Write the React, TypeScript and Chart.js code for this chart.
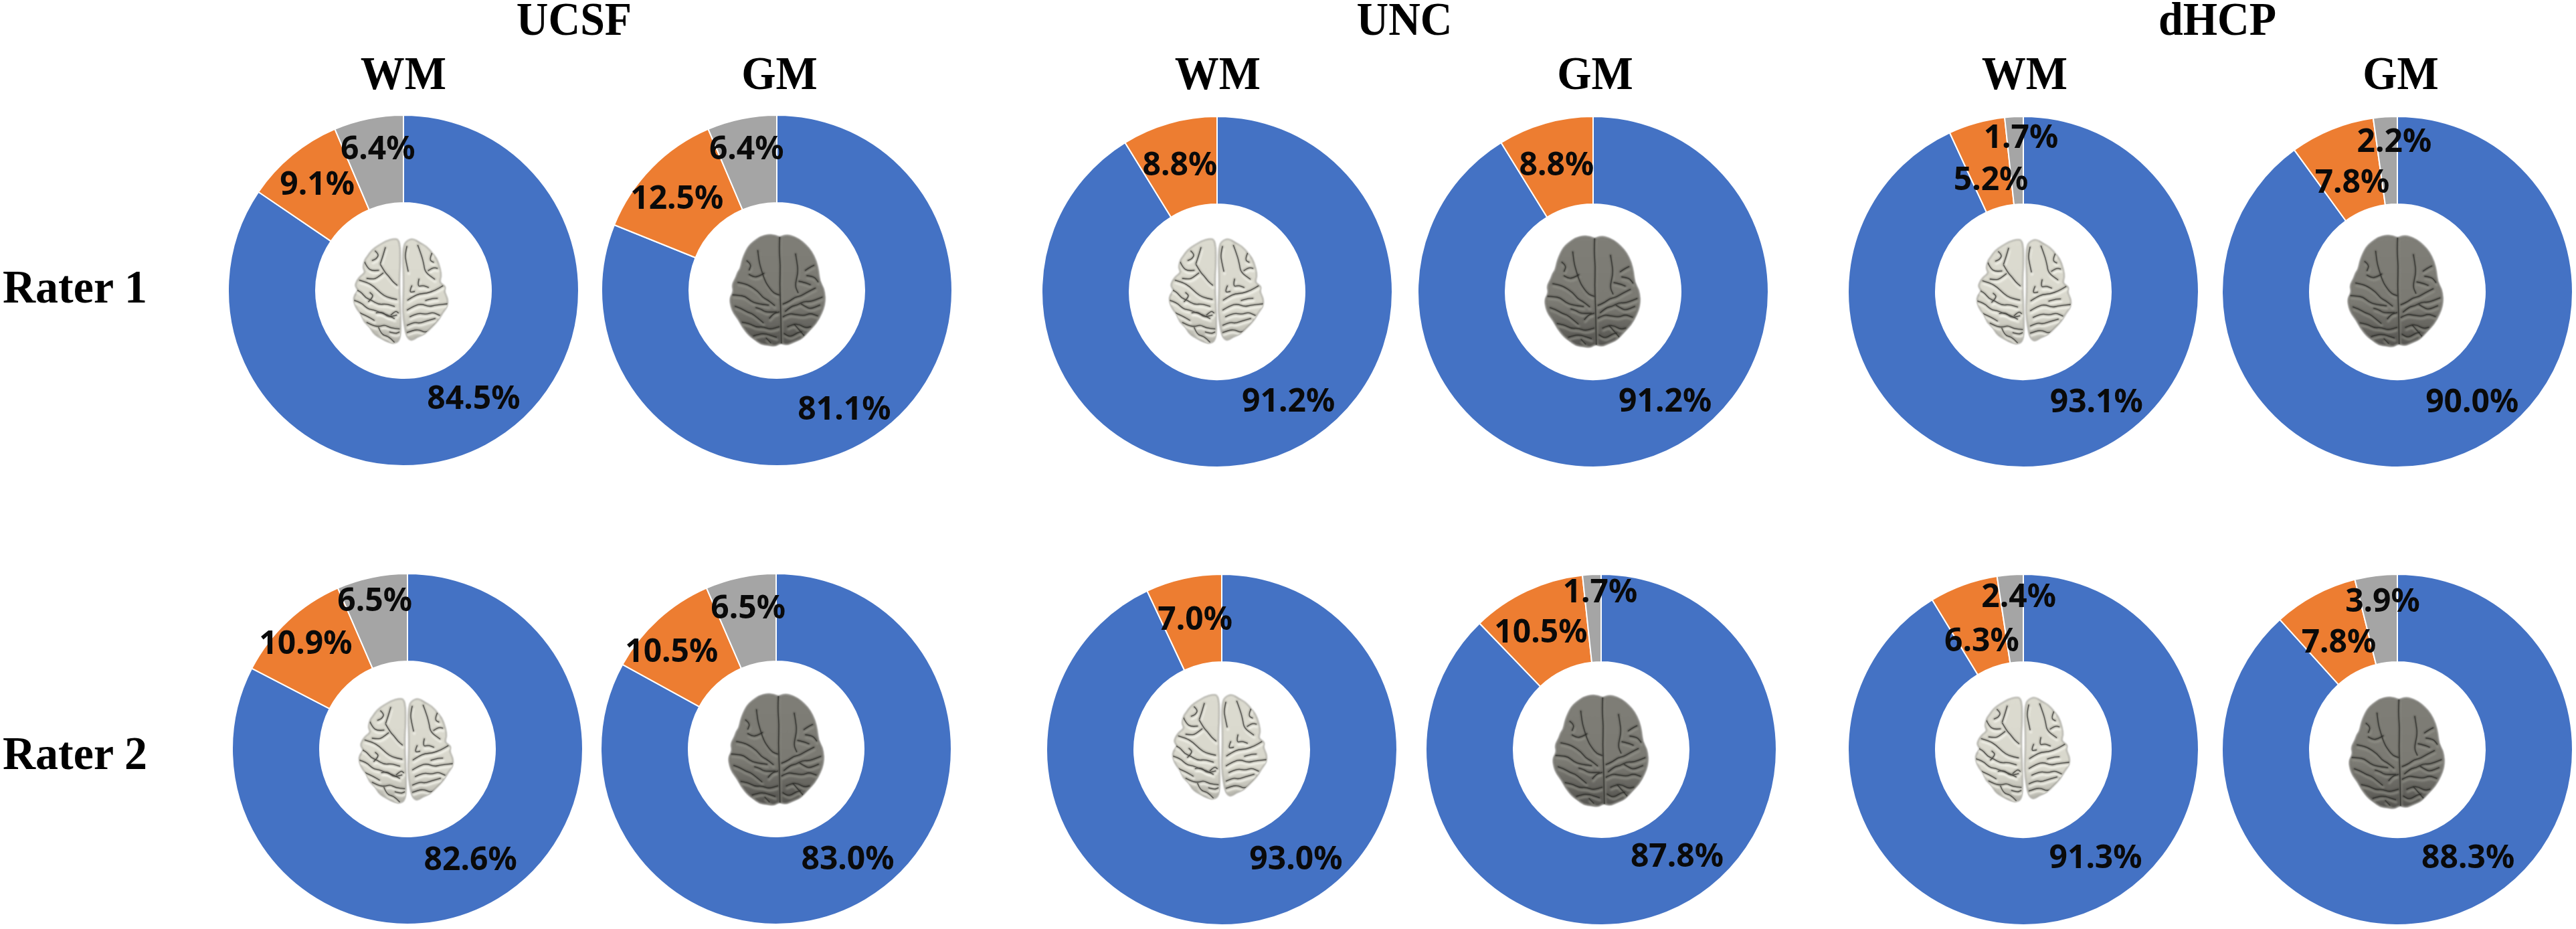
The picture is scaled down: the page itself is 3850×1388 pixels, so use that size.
import React, { useEffect, useRef } from "react";
import { Chart, registerables, Plugin } from "chart.js";

Chart.register(...registerables);

// slices run clockwise from 12 o'clock: blue, orange, grey
const sliceNames = ["Slice 1", "Slice 2", "Slice 3"];
const sliceColors = ["#4472C4", "#ED7D31", "#A5A5A5"];

const ucsfWmRater1 = [84.5, 9.1, 6.4];
const ucsfGmRater1 = [81.1, 12.5, 6.4];
const uncWmRater1 = [91.2, 8.8, 0];
const uncGmRater1 = [91.2, 8.8, 0];
const dhcpWmRater1 = [93.1, 5.2, 1.7];
const dhcpGmRater1 = [90.0, 7.8, 2.2];

const ucsfWmRater2 = [82.6, 10.9, 6.5];
const ucsfGmRater2 = [83.0, 10.5, 6.5];
const uncWmRater2 = [93.0, 7.0, 0];
const uncGmRater2 = [87.8, 10.5, 1.7];
const dhcpWmRater2 = [91.3, 6.3, 2.4];
const dhcpGmRater2 = [88.3, 7.8, 3.9];

const RADIUS = 261;
const BORDER = 2;
const SIZE = 2 * RADIUS + BORDER + 2;

type Pt = number[];

// brain artwork, traced in a 540x570 box
const wmOutlineLeft: Pt[] = [[262, 60], [240, 55], [205, 65], [170, 85], [140, 105], [120, 135], [108, 150], [100, 185], [112, 205], [85, 225], [72, 245], [65, 265], [80, 285], [60, 310], [60, 340], [75, 370], [95, 395], [105, 425], [130, 445], [150, 480], [185, 500], [215, 515], [245, 522], [268, 500], [268, 400], [265, 330], [262, 240], [268, 130]];
const wmOutlineRight: Pt[] = [[283, 80], [300, 62], [325, 55], [355, 75], [385, 90], [410, 120], [430, 145], [445, 190], [450, 225], [440, 250], [470, 268], [462, 290], [478, 320], [478, 355], [455, 385], [435, 420], [405, 450], [375, 480], [345, 490], [315, 510], [295, 490], [285, 440], [278, 380], [280, 320], [282, 240], [278, 140]];
const gmOutline: Pt[] = [[265, 48], [245, 38], [215, 36], [180, 45], [150, 65], [125, 90], [108, 125], [98, 155], [92, 185], [80, 200], [72, 225], [55, 255], [62, 285], [45, 315], [50, 350], [62, 380], [85, 410], [100, 440], [130, 478], [155, 495], [180, 515], [215, 520], [245, 525], [268, 510], [295, 520], [330, 505], [365, 490], [395, 455], [425, 425], [450, 380], [462, 345], [465, 310], [458, 270], [440, 240], [436, 195], [425, 150], [405, 110], [380, 80], [350, 55], [310, 38], [285, 38]];

const wmSulci: Pt[][] = [
  [[118, 232], [145, 236], [165, 228], [190, 208]],
  [[108, 160], [120, 185], [140, 198], [170, 196]],
  [[155, 110], [172, 125], [160, 145], [142, 152]],
  [[200, 95], [190, 130], [178, 165]],
  [[178, 170], [198, 205], [215, 222], [232, 245], [252, 262]],
  [[85, 240], [120, 250], [150, 268], [180, 298], [208, 316], [250, 325]],
  [[70, 282], [90, 290], [112, 318], [140, 330], [170, 348], [205, 345], [240, 356]],
  [[62, 330], [90, 338], [122, 368], [150, 372], [172, 382], [205, 392], [240, 410]],
  [[125, 335], [150, 312], [132, 295]],
  [[160, 385], [185, 378], [212, 405], [250, 395]],
  [[85, 385], [120, 400], [150, 418]],
  [[118, 428], [145, 442], [172, 446], [198, 438], [222, 452], [262, 456]],
  [[170, 450], [182, 482], [212, 488], [240, 515]],
  [[225, 395], [245, 375], [258, 385]],
  [[220, 470], [245, 478], [262, 470]],
  [[296, 90], [288, 125], [292, 155], [302, 200]],
  [[345, 85], [362, 130], [372, 170], [378, 205], [420, 235]],
  [[392, 197], [412, 183], [432, 187]],
  [[350, 235], [342, 270], [368, 262], [392, 272]],
  [[408, 120], [395, 150], [415, 160]],
  [[300, 328], [325, 312], [352, 300], [385, 298], [422, 285], [456, 265]],
  [[298, 372], [332, 352], [362, 345], [395, 358], [425, 350], [476, 345]],
  [[310, 402], [345, 385], [382, 392], [412, 382], [442, 396]],
  [[298, 440], [330, 425], [352, 432], [385, 420], [422, 410]],
  [[298, 472], [325, 462], [352, 460], [375, 472], [402, 465], [440, 420]],
  [[380, 330], [405, 322], [432, 320]],
  [[318, 265], [305, 295], [330, 290]],
];
const gmSulci: Pt[][] = [
  [[265, 45], [262, 100], [268, 170], [265, 250], [268, 330], [270, 400], [272, 515]],
  [[130, 210], [150, 222], [172, 218], [195, 205]],
  [[168, 105], [172, 140], [178, 172], [200, 240], [220, 270], [238, 292], [262, 300]],
  [[120, 150], [140, 165], [130, 190]],
  [[80, 245], [105, 250], [130, 258], [170, 285], [190, 312], [212, 322], [242, 346]],
  [[58, 300], [85, 302], [112, 306], [138, 328], [165, 338], [215, 345]],
  [[68, 350], [92, 358], [122, 376], [142, 382], [162, 397], [192, 422]],
  [[160, 356], [182, 362], [202, 376], [250, 375]],
  [[220, 402], [236, 382], [262, 375]],
  [[100, 420], [130, 425], [160, 442], [192, 440], [222, 452], [262, 440]],
  [[150, 480], [175, 472], [202, 470], [250, 486]],
  [[205, 490], [225, 510]],
  [[335, 120], [342, 160], [346, 200], [332, 260], [346, 290]],
  [[378, 192], [398, 178], [416, 170]],
  [[385, 215], [405, 218], [422, 225], [434, 242]],
  [[280, 340], [305, 330], [332, 310], [358, 305], [382, 290], [422, 270]],
  [[290, 372], [315, 350], [342, 345], [372, 328], [402, 330], [452, 310]],
  [[360, 340], [380, 352], [400, 362], [442, 345]],
  [[280, 396], [305, 382], [332, 385], [372, 392], [400, 380], [432, 392]],
  [[300, 440], [325, 428], [352, 430], [378, 445], [402, 440]],
  [[285, 470], [302, 482], [322, 480], [345, 465], [362, 462]],
  [[350, 240], [375, 245], [400, 255]],
  [[330, 430], [352, 455], [372, 478]],
];

function smoothOpen(ctx: CanvasRenderingContext2D, pts: Pt[]) {
  ctx.moveTo(pts[0][0], pts[0][1]);
  for (let i = 1; i < pts.length - 1; i++) {
    const mx = (pts[i][0] + pts[i + 1][0]) / 2;
    const my = (pts[i][1] + pts[i + 1][1]) / 2;
    ctx.quadraticCurveTo(pts[i][0], pts[i][1], mx, my);
  }
  const last = pts[pts.length - 1];
  ctx.lineTo(last[0], last[1]);
}

function smoothClosed(ctx: CanvasRenderingContext2D, pts: Pt[]) {
  const n = pts.length;
  ctx.moveTo((pts[n - 1][0] + pts[0][0]) / 2, (pts[n - 1][1] + pts[0][1]) / 2);
  for (let i = 0; i < n; i++) {
    const next = pts[(i + 1) % n];
    ctx.quadraticCurveTo(pts[i][0], pts[i][1], (pts[i][0] + next[0]) / 2, (pts[i][1] + next[1]) / 2);
  }
  ctx.closePath();
}

function drawBrain(ctx: CanvasRenderingContext2D, kind: string, cx: number, cy: number) {
  const isWm = kind === "WM";
  const w = isWm ? 140 : 142;
  const h = isWm ? 157 : 166;
  const top = isWm ? 55 : 36;
  const bottom = isWm ? 522 : 525;
  const left = isWm ? 60 : 45;
  const right = isWm ? 478 : 465;
  const outlines = isWm ? [wmOutlineLeft, wmOutlineRight] : [gmOutline];
  const sulci = isWm ? wmSulci : gmSulci;

  ctx.save();
  ctx.translate(cx - w / 2, cy - h / 2);
  ctx.scale(w / (right - left), h / (bottom - top));
  ctx.translate(-left, -top);

  const grad = ctx.createLinearGradient(0, top, 0, bottom);
  if (isWm) {
    grad.addColorStop(0, "#dcdbd0");
    grad.addColorStop(0.7, "#d9d8cd");
    grad.addColorStop(1, "#b4b3aa");
  } else {
    grad.addColorStop(0, "#7f7e77");
    grad.addColorStop(0.6, "#7b7a73");
    grad.addColorStop(1, "#54534f");
  }

  ctx.filter = "blur(1px)";
  ctx.beginPath();
  outlines.forEach((o) => smoothClosed(ctx, o));
  ctx.fillStyle = grad;
  ctx.fill();
  ctx.strokeStyle = isWm ? "#8d8c83" : "#5d5c56";
  ctx.lineWidth = 4;
  ctx.stroke();

  ctx.beginPath();
  outlines.forEach((o) => smoothClosed(ctx, o));
  ctx.clip();

  // sulci: soft highlight, soft shadow, dark core
  ctx.lineCap = "round";
  ctx.lineJoin = "round";
  ctx.filter = "blur(1.6px)";
  ctx.strokeStyle = isWm ? "rgba(248,248,240,0.85)" : "rgba(150,149,141,0.7)";
  ctx.lineWidth = 11;
  sulci.forEach((s) => {
    ctx.beginPath();
    smoothOpen(ctx, s.map((p) => [p[0] + 3, p[1] + 11]));
    ctx.stroke();
  });
  ctx.filter = "blur(1.3px)";
  ctx.strokeStyle = isWm ? "rgba(128,127,118,0.7)" : "rgba(62,61,57,0.6)";
  ctx.lineWidth = 10;
  sulci.forEach((s) => {
    ctx.beginPath();
    smoothOpen(ctx, s);
    ctx.stroke();
  });
  ctx.filter = "blur(0.7px)";
  ctx.strokeStyle = isWm ? "rgba(66,66,62,0.8)" : "rgba(42,42,39,0.65)";
  ctx.lineWidth = 4;
  sulci.forEach((s) => {
    ctx.beginPath();
    smoothOpen(ctx, s);
    ctx.stroke();
  });
  ctx.restore();
  ctx.filter = "none";
}

interface DonutProps {
  values: number[];
  kind: string;
  cx: number;
  cy: number;
  brainShift: number[];
  labelNudges: number[][];
}

const DonutPanel: React.FC<DonutProps> = ({ values, kind, cx, cy, brainShift, labelNudges }) => {
  const chartRef = useRef<HTMLCanvasElement | null>(null);

  useEffect(() => {
    const ctx = chartRef.current?.getContext("2d");
    if (!ctx) return;

    const panelPlugin: Plugin<"doughnut"> = {
      id: "panelArt",
      afterDatasetsDraw(chart) {
        const c = chart.ctx;
        const arcs = chart.getDatasetMeta(0).data as any[];
        drawBrain(c, kind, arcs[0].x + brainShift[0], arcs[0].y + brainShift[1]);
        c.save();
        c.font = "700 48px 'Noto Sans'";
        c.fillStyle = "#0a0a0a";
        c.textAlign = "center";
        c.textBaseline = "middle";
        arcs.forEach((arc, i) => {
          if (!values[i]) return;
          const p = arc.tooltipPosition();
          c.fillText(`${values[i].toFixed(1)}%`, p.x + labelNudges[i][0], p.y + labelNudges[i][1]);
        });
        c.restore();
      },
    };

    const chart = new Chart(ctx, {
      type: "doughnut",
      data: {
        labels: sliceNames,
        datasets: [
          {
            data: values,
            backgroundColor: sliceColors,
            borderColor: "#ffffff",
            borderWidth: BORDER,
            hoverBorderWidth: BORDER,
          },
        ],
      },
      options: {
        animation: false,
        responsive: false,
        devicePixelRatio: 1,
        cutout: "50%",
        layout: { padding: 0 },
        plugins: {
          legend: { display: false },
          tooltip: { enabled: false },
        },
      },
      plugins: [panelPlugin],
    });

    return () => {
      chart.destroy();
    };
  }, [values, kind, brainShift, labelNudges]);

  return (
    <canvas
      ref={chartRef}
      width={SIZE}
      height={SIZE}
      style={{ position: "absolute", left: cx - SIZE / 2, top: cy - SIZE / 2, width: SIZE, height: SIZE }}
    ></canvas>
  );
};

const panels: DonutProps[] = [
  { values: ucsfWmRater1, kind: "WM", cx: 603, cy: 434, brainShift: [-4, 1], labelNudges: [[13, -10], [-4, -5], [1, -17]] },
  { values: ucsfGmRater1, kind: "GM", cx: 1161, cy: 434, brainShift: [1, 0], labelNudges: [[-9, 16], [-9, 2], [-6, -17]] },
  { values: uncWmRater1, kind: "WM", cx: 1819, cy: 435.5, brainShift: [-1, -1], labelNudges: [[53, -24], [-2, 1], [0, 0]] },
  { values: uncGmRater1, kind: "GM", cx: 2381, cy: 435.5, brainShift: [-1, 0], labelNudges: [[54, -24], [-1, 1], [0, 0]] },
  { values: dhcpWmRater1, kind: "WM", cx: 3024, cy: 435.5, brainShift: [1, 0], labelNudges: [[67, -26], [4, 24], [7, -32]] },
  { values: dhcpGmRater1, kind: "GM", cx: 3583, cy: 435.5, brainShift: [-3, -1], labelNudges: [[51, -21], [6, 21], [9, -27]] },
  { values: ucsfWmRater2, kind: "WM", cx: 609, cy: 1118.5, brainShift: [-2, 3], labelNudges: [[-8, -1], [-18, -12], [-9, -27]] },
  { values: ucsfGmRater2, kind: "GM", cx: 1160, cy: 1118.5, brainShift: [0, 1], labelNudges: [[7, -3], [-24, 2], [-2, -16]] },
  { values: uncWmRater2, kind: "WM", cx: 1826, cy: 1120, brainShift: [-3, -4], labelNudges: [[68, -26], [3, -1], [0, 0]] },
  { values: uncGmRater2, kind: "GM", cx: 2393, cy: 1120, brainShift: [-1, 2], labelNudges: [[40, -21], [-7, 4], [9, -37]] },
  { values: dhcpWmRater2, kind: "WM", cx: 3024, cy: 1120, brainShift: [-1, 0], labelNudges: [[55, -26], [5, 24], [8, -31]] },
  { values: dhcpGmRater2, kind: "GM", cx: 3583, cy: 1120, brainShift: [-1, 5], labelNudges: [[35, -20], [5, 15], [2, -25]] },
];

const siteTitles = [
  { text: "UCSF", x: 858 },
  { text: "UNC", x: 2099 },
  { text: "dHCP", x: 3314 },
];
const tissueTitles = [
  { text: "WM", x: 603 },
  { text: "GM", x: 1165 },
  { text: "WM", x: 1820 },
  { text: "GM", x: 2384 },
  { text: "WM", x: 3026 },
  { text: "GM", x: 3588 },
];
const raterTitles = [
  { text: "Rater 1", y: 428 },
  { text: "Rater 2", y: 1125 },
];

const titleFont: React.CSSProperties = {
  position: "absolute",
  fontFamily: "'Liberation Serif', serif",
  fontWeight: 700,
  fontSize: 66,
  lineHeight: "66px",
  color: "#000",
  whiteSpace: "nowrap",
};

export default function App() {
  useEffect(() => {
    document.body.style.margin = "0";
    document.body.style.background = "#fff";
  }, []);

  return (
    <div style={{ position: "relative", width: 3850, height: 1388, overflow: "hidden", background: "#fff" }}>
      {panels.map((p, i) => (
        <DonutPanel key={i} {...p} />
      ))}
      {siteTitles.map((t) => (
        <div key={t.text} style={{ ...titleFont, left: t.x, top: 29 - 33, transform: "translateX(-50%) scaleY(1.06)" }}>
          {t.text}
        </div>
      ))}
      {tissueTitles.map((t, i) => (
        <div key={i} style={{ ...titleFont, left: t.x, top: 110 - 33, transform: "translateX(-50%) scaleY(1.06)" }}>
          {t.text}
        </div>
      ))}
      {raterTitles.map((t) => (
        <div key={t.text} style={{ ...titleFont, fontSize: 68, left: 4, top: t.y - 33, transform: "scaleY(1.03)" }}>
          {t.text}
        </div>
      ))}
    </div>
  );
}
